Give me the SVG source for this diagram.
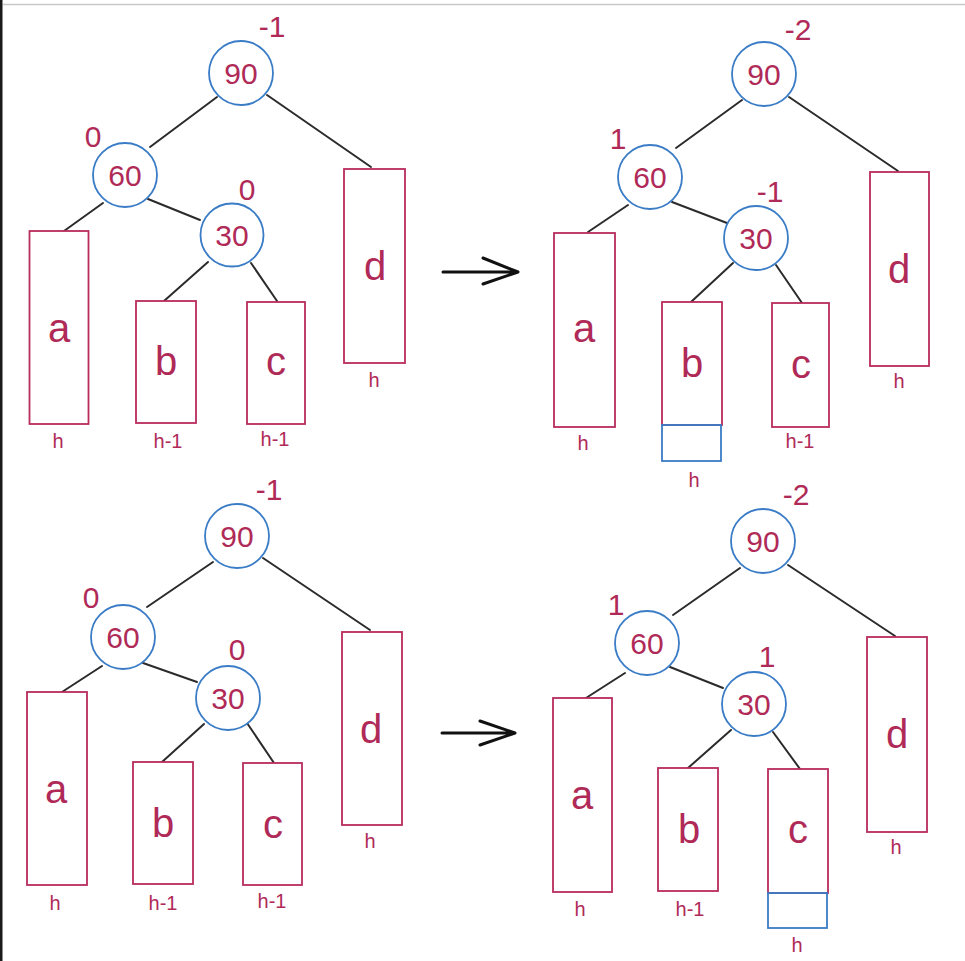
<svg xmlns="http://www.w3.org/2000/svg" width="965" height="961" viewBox="0 0 965 961">
<style>
.c{fill:#ffffff;stroke:#3a7cc6;stroke-width:1.8}
.r{fill:#ffffff;stroke:#b92c5d;stroke-width:1.8}
.rb{fill:none;stroke:#3a7cc6;stroke-width:1.8}
.e{stroke:#2b2b2b;stroke-width:2;stroke-linecap:round;fill:none}
.ar{stroke:#111;stroke-width:3;stroke-linecap:round;stroke-linejoin:round;fill:none}
text{font-family:"Liberation Sans",Arial,sans-serif;fill:#b02a58;text-anchor:middle}
.n{font-size:30px}
.b{font-size:30px}
.l{font-size:40px}
.h{font-size:20px}
</style>
<rect x="0" y="0" width="965" height="961" fill="#ffffff"/>
<line x1="3" y1="4.5" x2="965" y2="4.5" stroke="#c8c8c8" stroke-width="1.5"/>
<rect x="0" y="0" width="2.5" height="961" fill="#1a1a1a"/>

<g id="connectors">
  <!-- top-left -->
  <line class="e" x1="217" y1="97" x2="150" y2="147"/>
  <line class="e" x1="267" y1="95" x2="371" y2="167"/>
  <line class="e" x1="103" y1="203" x2="64" y2="231"/>
  <line class="e" x1="148" y1="199" x2="200" y2="220"/>
  <line class="e" x1="208" y1="262" x2="164" y2="301"/>
  <line class="e" x1="251" y1="263" x2="277" y2="301"/>
  <!-- top-right -->
  <line class="e" x1="742" y1="100" x2="676" y2="148"/>
  <line class="e" x1="789" y1="97" x2="898" y2="171"/>
  <line class="e" x1="628" y1="205" x2="588" y2="232"/>
  <line class="e" x1="672" y1="202" x2="727" y2="223"/>
  <line class="e" x1="733" y1="263" x2="691" y2="302"/>
  <line class="e" x1="776" y1="265" x2="802" y2="303"/>
  <!-- bottom-left -->
  <line class="e" x1="213" y1="562" x2="147" y2="607"/>
  <line class="e" x1="263" y1="558" x2="370" y2="630"/>
  <line class="e" x1="102" y1="666" x2="62" y2="692"/>
  <line class="e" x1="143" y1="663" x2="197" y2="682"/>
  <line class="e" x1="204" y1="724" x2="162" y2="762"/>
  <line class="e" x1="247" y1="723" x2="274" y2="763"/>
  <!-- bottom-right -->
  <line class="e" x1="740" y1="568" x2="673" y2="615"/>
  <line class="e" x1="788" y1="565" x2="895" y2="636"/>
  <line class="e" x1="625" y1="673" x2="586" y2="698"/>
  <line class="e" x1="670" y1="667" x2="723" y2="688"/>
  <line class="e" x1="731" y1="730" x2="688" y2="768"/>
  <line class="e" x1="773" y1="732" x2="800" y2="769"/>
</g>

<g id="arrows">
  <path class="ar" d="M443 272 L518 272 M483 258 L518 272 L483 284"/>
  <path class="ar" d="M442 733 L515 733 M480 721 L515 733 L480 745"/>
</g>

<!-- Top-left tree -->
<g id="tl-90"><circle class="c" cx="241" cy="73" r="32"/><text class="n" x="241" y="84">90</text><text class="b" x="272" y="37">-1</text></g>
<g id="tl-60"><circle class="c" cx="125" cy="175" r="32"/><text class="n" x="125" y="186">60</text><text class="b" x="93" y="147">0</text></g>
<g id="tl-30"><circle class="c" cx="232" cy="235" r="31.5"/><text class="n" x="232" y="246">30</text><text class="b" x="247" y="200">0</text></g>
<g id="tl-a"><rect class="r" x="29.5" y="231" width="59" height="193"/><text class="l" x="59" y="342">a</text><text class="h" x="58" y="448">h</text></g>
<g id="tl-b"><rect class="r" x="136" y="301" width="60" height="122"/><text class="l" x="166" y="375">b</text><text class="h" x="168" y="448">h-1</text></g>
<g id="tl-c"><rect class="r" x="247" y="302" width="58" height="122"/><text class="l" x="276" y="375">c</text><text class="h" x="275" y="446">h-1</text></g>
<g id="tl-d"><rect class="r" x="344" y="169" width="61" height="194"/><text class="l" x="375" y="280">d</text><text class="h" x="374" y="387">h</text></g>

<!-- Top-right tree -->
<g id="tr-90"><circle class="c" cx="764" cy="74" r="32"/><text class="n" x="764" y="85">90</text><text class="b" x="798" y="40">-2</text></g>
<g id="tr-60"><circle class="c" cx="650" cy="177" r="32"/><text class="n" x="650" y="188">60</text><text class="b" x="618" y="149">1</text></g>
<g id="tr-30"><circle class="c" cx="756" cy="238" r="32"/><text class="n" x="756" y="249">30</text><text class="b" x="770" y="202">-1</text></g>
<g id="tr-a"><rect class="r" x="554" y="233" width="61" height="194"/><text class="l" x="584" y="342">a</text><text class="h" x="583" y="450">h</text></g>
<g id="tr-b"><rect class="r" x="662" y="302" width="60" height="123"/><rect class="rb" x="662" y="425" width="59" height="36"/><text class="l" x="692" y="377">b</text><text class="h" x="694" y="487">h</text></g>
<g id="tr-c"><rect class="r" x="772" y="303" width="57" height="124"/><text class="l" x="801" y="378">c</text><text class="h" x="800" y="448">h-1</text></g>
<g id="tr-d"><rect class="r" x="870" y="172" width="59" height="194"/><text class="l" x="899" y="283">d</text><text class="h" x="899" y="388">h</text></g>

<!-- Bottom-left tree -->
<g id="bl-90"><circle class="c" cx="237" cy="536" r="32"/><text class="n" x="237" y="547">90</text><text class="b" x="269" y="500">-1</text></g>
<g id="bl-60"><circle class="c" cx="123" cy="637" r="32"/><text class="n" x="123" y="648">60</text><text class="b" x="91" y="608">0</text></g>
<g id="bl-30"><circle class="c" cx="228" cy="698" r="32"/><text class="n" x="228" y="709">30</text><text class="b" x="237" y="660">0</text></g>
<g id="bl-a"><rect class="r" x="27" y="692" width="60" height="193"/><text class="l" x="56" y="803">a</text><text class="h" x="55" y="910">h</text></g>
<g id="bl-b"><rect class="r" x="133" y="762" width="60" height="122"/><text class="l" x="163" y="837">b</text><text class="h" x="163" y="910">h-1</text></g>
<g id="bl-c"><rect class="r" x="243" y="763" width="59" height="122"/><text class="l" x="273" y="838">c</text><text class="h" x="272" y="908">h-1</text></g>
<g id="bl-d"><rect class="r" x="342" y="632" width="60" height="193"/><text class="l" x="371" y="743">d</text><text class="h" x="370" y="848">h</text></g>

<!-- Bottom-right tree -->
<g id="br-90"><circle class="c" cx="763" cy="541" r="32"/><text class="n" x="763" y="552">90</text><text class="b" x="796" y="505">-2</text></g>
<g id="br-60"><circle class="c" cx="647" cy="643" r="32"/><text class="n" x="647" y="654">60</text><text class="b" x="616" y="615">1</text></g>
<g id="br-30"><circle class="c" cx="754" cy="704" r="32"/><text class="n" x="754" y="715">30</text><text class="b" x="767" y="667">1</text></g>
<g id="br-a"><rect class="r" x="553" y="698" width="59" height="194"/><text class="l" x="582" y="809">a</text><text class="h" x="580" y="916">h</text></g>
<g id="br-b"><rect class="r" x="658" y="768" width="60" height="123"/><text class="l" x="689" y="843">b</text><text class="h" x="690" y="916">h-1</text></g>
<g id="br-c"><rect class="r" x="768" y="769" width="60" height="124"/><rect class="rb" x="768" y="893" width="59" height="35"/><text class="l" x="798" y="843">c</text><text class="h" x="797" y="952">h</text></g>
<g id="br-d"><rect class="r" x="867" y="637" width="60" height="195"/><text class="l" x="897" y="748">d</text><text class="h" x="896" y="854">h</text></g>
</svg>
